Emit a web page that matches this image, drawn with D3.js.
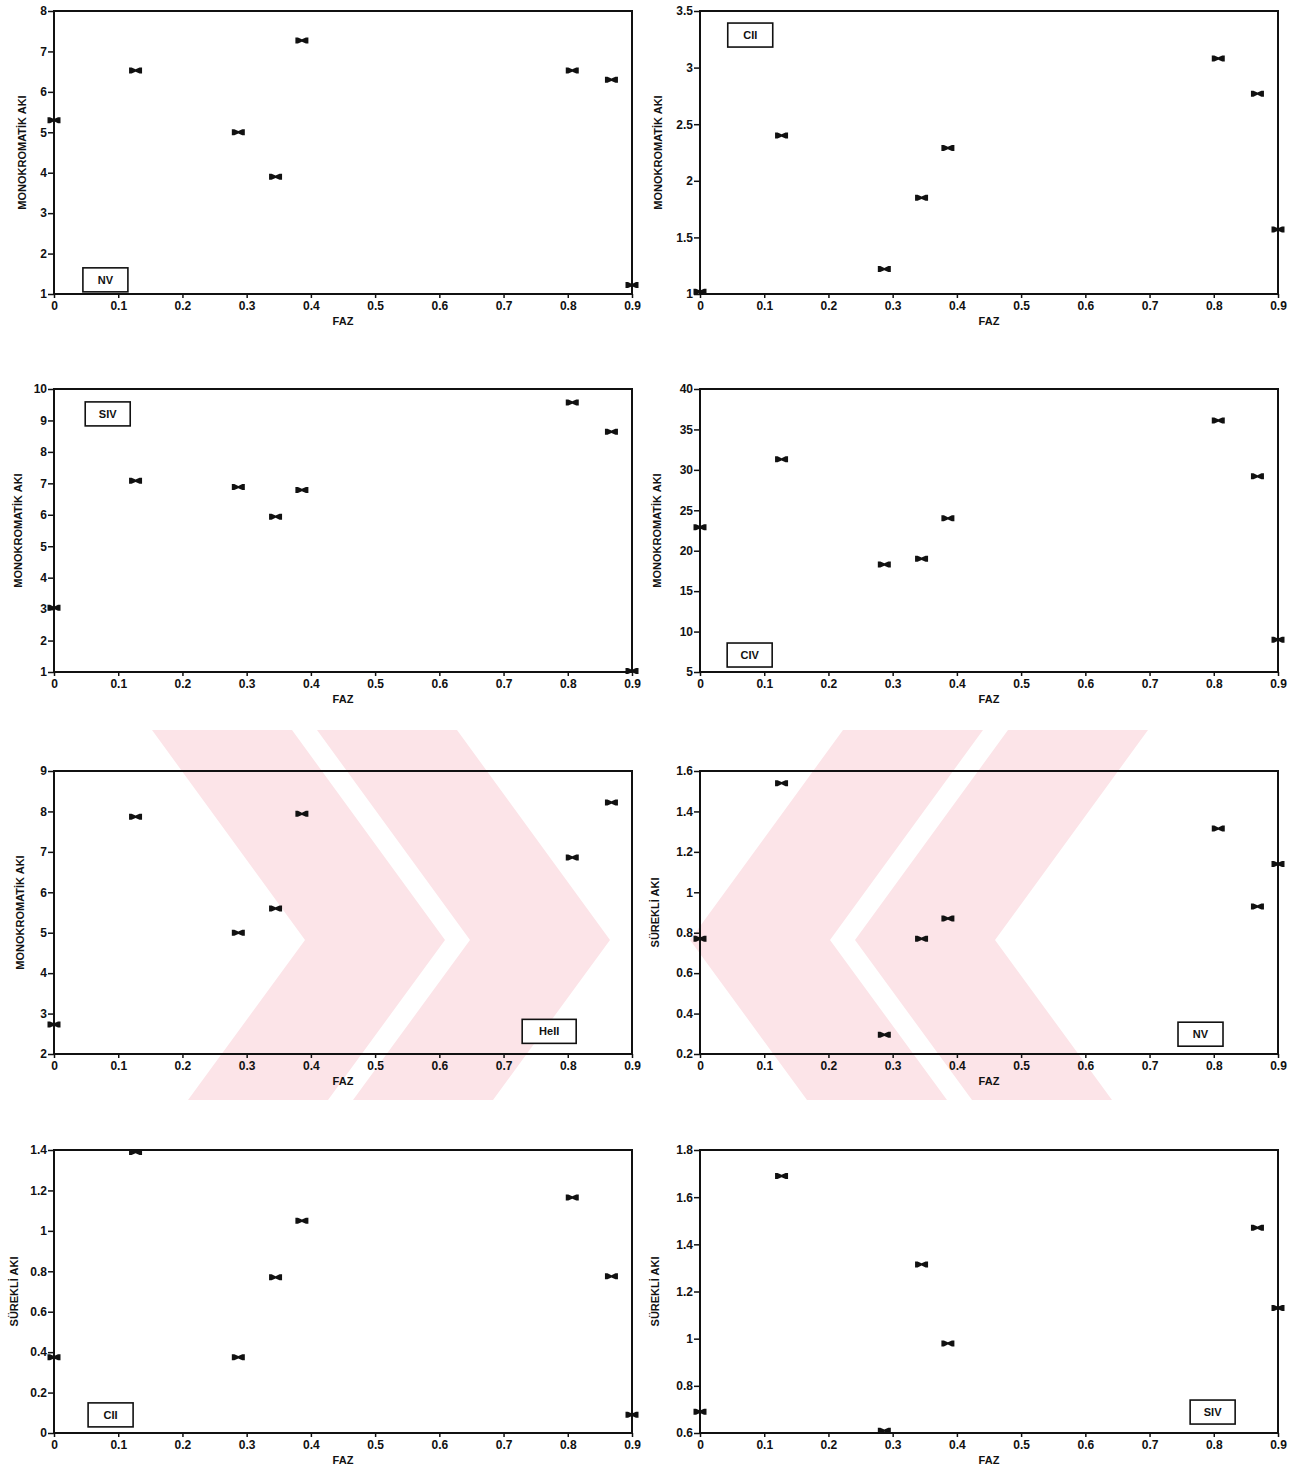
<!DOCTYPE html>
<html>
<head>
<meta charset="utf-8">
<script src="https://cdn.jsdelivr.net/npm/d3@7"></script>
<style>
  body { margin: 0; background: #fff; }
  text { font-family: "Liberation Sans", Arial, sans-serif; font-weight: bold; fill: #111; }
</style>
</head>
<body>
<svg id="chart" width="1306" height="1469"></svg>
<script>
// phases of the observations (same for every panel)
const phases = [0, 0.127, 0.287, 0.345, 0.386, 0.807, 0.868, 0.9];
const xTicks = [0, 0.1, 0.2, 0.3, 0.4, 0.5, 0.6, 0.7, 0.8, 0.9];

// monochromatic fluxes
const nvMono   = [5.30, 6.53, 5.00, 3.90, 7.27, 6.53, 6.30, 1.22];
const ciiMono  = [1.02, 2.40, 1.22, 1.85, 2.29, 3.08, 2.77, 1.57];
const sivMono  = [3.04, 7.08, 6.88, 5.94, 6.79, 9.57, 8.64, 1.03];
const civMono  = [22.9, 31.3, 18.3, 19.0, 24.0, 36.1, 29.2, 9.0];
const heiiMono = [2.73, 7.87, 5.00, 5.60, 7.94, 6.86, 8.22, null];
// continuum fluxes
const nvCont   = [0.77, 1.54, 0.295, 0.77, 0.87, 1.315, 0.93, 1.14];
const ciiCont  = [0.375, 1.39, 0.375, 0.77, 1.05, 1.165, 0.775, 0.09];
const sivCont  = [0.69, 1.69, 0.61, 1.315, 0.98, null, 1.47, 1.13];

// y ticks per panel
const nvMonoTicks   = [1, 2, 3, 4, 5, 6, 7, 8];
const ciiMonoTicks  = [1, 1.5, 2, 2.5, 3, 3.5];
const sivMonoTicks  = [1, 2, 3, 4, 5, 6, 7, 8, 9, 10];
const civMonoTicks  = [5, 10, 15, 20, 25, 30, 35, 40];
const heiiMonoTicks = [2, 3, 4, 5, 6, 7, 8, 9];
const nvContTicks   = [0.2, 0.4, 0.6, 0.8, 1, 1.2, 1.4, 1.6];
const ciiContTicks  = [0, 0.2, 0.4, 0.6, 0.8, 1, 1.2, 1.4];
const sivContTicks  = [0.6, 0.8, 1, 1.2, 1.4, 1.6, 1.8];

const ions = ["NV", "CII", "SIV", "CIV", "HeII", "NV", "CII", "SIV"];
const monoTitle = "MONOKROMATİK AKI";
const contTitle = "SÜREKLİ AKI";
const xTitle = "FAZ";

const panels = [
  { ion: ions[0], title: monoTitle, values: nvMono,   ticks: nvMonoTicks },
  { ion: ions[1], title: monoTitle, values: ciiMono,  ticks: ciiMonoTicks },
  { ion: ions[2], title: monoTitle, values: sivMono,  ticks: sivMonoTicks },
  { ion: ions[3], title: monoTitle, values: civMono,  ticks: civMonoTicks },
  { ion: ions[4], title: monoTitle, values: heiiMono, ticks: heiiMonoTicks },
  { ion: ions[5], title: contTitle, values: nvCont,   ticks: nvContTicks },
  { ion: ions[6], title: contTitle, values: ciiCont,  ticks: ciiContTicks },
  { ion: ions[7], title: contTitle, values: sivCont,  ticks: sivContTicks }
];

// layout: panel frames, label box centres (fractions of the frame), y title x
const colX = [54, 700];
const rowY = [11, 389, 771, 1150];
const plotW = 578, plotH = 283;
const boxPos = [[0.05, 0.95], [0.048, 0.085], [0.054, 0.088], [0.047, 0.94],
                [0.81, 0.92], [0.827, 0.93], [0.059, 0.936], [0.848, 0.926]];
const titleX = [22, 658, 18, 657, 20, 655, 14, 655];

const svg = d3.select("#chart");

// faint pink watermark behind the third row (two chevron bands each side)
const band = [[152, 730], [292, 730], [445, 940], [328, 1100], [188, 1100], [305, 940]];
const bandShifts = [0, 165];
const wm = svg.append("g").attr("fill", "#fce4e8");
bandShifts.forEach(s => {
  const left = band.map(([px, py]) => [px + s, py]);
  const right = left.map(([px, py]) => [1300 - px, py]);
  [left, right].forEach(poly => wm.append("path").attr("d", d3.line()(poly) + "Z"));
});

// bowtie marker like the plotter symbol
const marker = "M-6.5,-3 L-4,-3 L0,-1.2 L4,-3 L6.5,-3 L6.5,3 L4,3 L0,1.2 L-4,3 L-6.5,3 Z";

panels.forEach((p, i) => {
  const col = i % 2, row = Math.floor(i / 2);
  const g = svg.append("g").attr("transform", `translate(${colX[col]},${rowY[row]})`);

  const x = d3.scaleLinear().domain([0, 0.9]).range([0, plotW]);
  const y = d3.scaleLinear().domain(d3.extent(p.ticks)).range([plotH, 0]);

  g.append("g")
    .attr("transform", `translate(0,${plotH})`)
    .call(d3.axisBottom(x).tickValues(xTicks).tickSize(4).tickPadding(3)
      .tickFormat(d => d === 0 ? "0" : d3.format(".1f")(d)))
    .call(a => a.select(".domain").remove())
    .call(a => a.selectAll("line").attr("stroke", "#111").attr("stroke-width", 1.5))
    .call(a => a.selectAll("text").style("font-size", "12px").attr("fill", "#111"));

  g.append("g")
    .call(d3.axisLeft(y).tickValues(p.ticks).tickSize(6).tickPadding(1)
      .tickFormat(d => String(+d.toFixed(1))))
    .call(a => a.select(".domain").remove())
    .call(a => a.selectAll("line").attr("stroke", "#111").attr("stroke-width", 1.5))
    .call(a => a.selectAll("text").style("font-size", "12px").attr("fill", "#111"));

  g.append("rect")
    .attr("width", plotW).attr("height", plotH)
    .attr("fill", "none").attr("stroke", "#111").attr("stroke-width", 2);

  // ion label box
  const bw = p.ion.length > 3 ? 54 : 45;
  const bx = boxPos[i][0] * plotW, by = boxPos[i][1] * plotH;
  g.append("rect")
    .attr("x", bx).attr("y", by - 12)
    .attr("width", bw).attr("height", 24)
    .attr("fill", "#fff").attr("stroke", "#111").attr("stroke-width", 1.6);
  g.append("text")
    .attr("x", bx + bw / 2).attr("y", by + 4)
    .attr("text-anchor", "middle").style("font-size", "11px")
    .text(p.ion);

  // points
  g.selectAll("path.pt")
    .data(phases.map((ph, k) => ({ ph, v: p.values[k] })).filter(d => d.v !== null))
    .enter().append("path")
    .attr("class", "pt")
    .attr("d", marker)
    .attr("fill", "#111")
    .attr("transform", d => `translate(${x(d.ph)},${y(d.v)})`);

  // titles
  g.append("text")
    .attr("x", plotW / 2).attr("y", plotH + 31)
    .attr("text-anchor", "middle").style("font-size", "11px")
    .text(xTitle);

  g.append("text")
    .attr("transform", `translate(${titleX[i] - colX[col]},${plotH / 2}) rotate(-90)`)
    .attr("text-anchor", "middle").attr("dy", "0.35em")
    .style("font-size", "11px")
    .text(p.title);
});
</script>
</body>
</html>
